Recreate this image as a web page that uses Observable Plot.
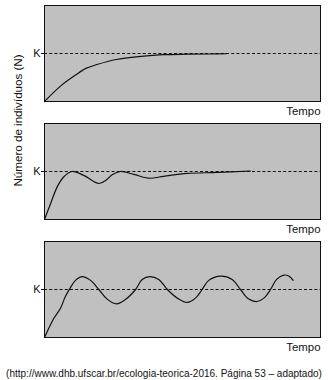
<!DOCTYPE html>
<html>
<head>
<meta charset="utf-8">
<script src="https://cdn.jsdelivr.net/npm/d3@7"></script>
<script src="https://cdn.jsdelivr.net/npm/@observablehq/plot@0.6"></script>
<style>
  html, body { margin: 0; padding: 0; background: #fff; }
  body { width: 328px; height: 380px; overflow: hidden; font-family: "Liberation Sans", Arial, sans-serif; }
  #chart svg { display: block; }
  #caption { font-size: 10px; color: #111; text-align: center; margin-top: 12px; white-space: nowrap; }
</style>
</head>
<body>
<div id="chart"></div>
<div id="caption">(http://www.dhb.ufscar.br/ecologia-teorica-2016. Página 53 – adaptado)</div>
<script>
// Panels (top to bottom)
const panels = [1, 2, 3];
const K = 1;               // carrying capacity level
const yTicks = [K];
const yTickLabels = ["K"];
const xLabel = "Tempo";
const yLabel = "Número de indivíduos (N)";

// Panel 1: logistic growth (time, N as fraction of K)
const t1 = [0, 6, 11, 15, 19, 26, 35, 43, 52, 60, 66];
const n1 = [0, 0.33, 0.54, 0.69, 0.77, 0.875, 0.94, 0.975, 0.985, 0.99, 0.995];

// Panel 2: damped oscillations
const t2 = [0, 2.2, 4.6, 7, 10, 14.2, 19.7, 22.5, 24.5, 27.5, 32.4, 37.8, 43.2, 51.7, 62.6, 74.6];
const n2 = [0, 0.33, 0.68, 0.89, 1.0, 0.92, 0.75, 0.83, 0.93, 1.0, 0.94, 0.86, 0.9, 0.96, 0.98, 1.01];

// Panel 3: sustained oscillations
const t3 = [0, 3.4, 5.8, 7.6, 9.2, 11.2, 13.7, 16.7, 19.7, 22.7, 26.1, 29.3, 33, 35.4, 38.2, 41.4, 44.5, 48.4, 51.7, 54.7, 57.1, 59.5, 63.8, 68, 71, 74, 77, 79.5, 81.9, 84.1, 86.7, 88.5, 90.1];
const n3 = [0, 0.4, 0.61, 0.86, 1.02, 1.19, 1.27, 1.19, 1.0, 0.8, 0.70, 0.79, 1.0, 1.21, 1.27, 1.21, 1.0, 0.81, 0.73, 0.82, 1.0, 1.19, 1.28, 1.21, 1.0, 0.8, 0.75, 0.82, 1.0, 1.21, 1.30, 1.28, 1.19];

const series = [[t1, n1], [t2, n2], [t3, n3]];
const rows = series.flatMap(([ts, ns], i) => ts.map((t, j) => ({panel: panels[i], t, n: ns[j]})));
const kRows = panels.map(p => ({panel: p, k: K}));

const chart = Plot.plot({
  width: 328,
  height: 356,
  marginLeft: 44,
  marginRight: 8,
  marginTop: 5,
  marginBottom: 19,
  style: {fontFamily: "'Liberation Sans', Arial, sans-serif", background: "#fff", color: "#111"},
  x: {domain: [0, 100], axis: null},
  y: {domain: [0, 2], axis: null},
  fy: {domain: panels, axis: null, paddingInner: 0.19, paddingOuter: 0},
  marks: [
    Plot.frame({fill: "#c0c0c0", stroke: null}),
    Plot.ruleY(kRows, {y: "k", fy: "panel", stroke: "#111", strokeWidth: 1, strokeDasharray: "3,2.2"}),
    Plot.line(rows, {x: "t", y: "n", fy: "panel", curve: "catmull-rom", stroke: "#111", strokeWidth: 1.2}),
    Plot.frame({stroke: "#111", strokeWidth: 1}),
    Plot.axisY(yTicks, {tickFormat: (d, i) => yTickLabels[i], tickSize: 3, tickPadding: 1, label: null, fontSize: 11, stroke: "#111"}),
    Plot.text(panels, {fy: d => d, text: () => xLabel, frameAnchor: "bottom-right", textAnchor: "end", lineAnchor: "top", dy: 5, fontSize: 11.4, fill: "#111"}),
    Plot.text([2], {fy: d => d, text: () => yLabel, frameAnchor: "left", rotate: -90, dx: -26, dy: 15, fontSize: 11.6, fill: "#111"})
  ]
});
document.getElementById("chart").appendChild(chart);
</script>
</body>
</html>
